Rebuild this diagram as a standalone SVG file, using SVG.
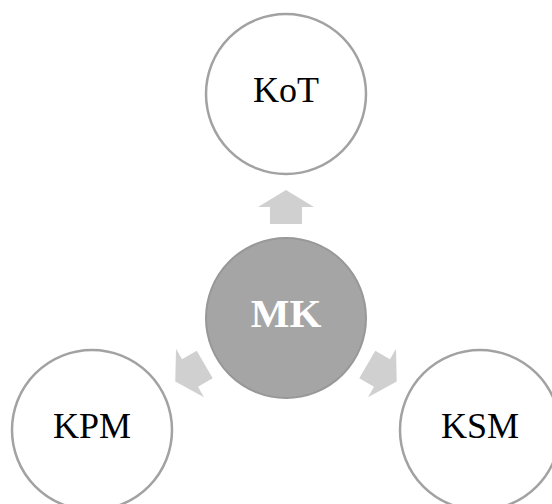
<svg xmlns="http://www.w3.org/2000/svg" width="552" height="504" viewBox="0 0 552 504">
  <style>
    .outer { fill: #ffffff; stroke: #a2a2a2; stroke-width: 2.5; }
    .hub { fill: #a5a5a5; stroke: #989898; stroke-width: 2; }
    .label { font-family: "Liberation Serif", "Times New Roman", serif; font-size: 36px; fill: #000000; text-anchor: middle; }
    .hub-label { font-family: "Liberation Serif", "Times New Roman", serif; font-size: 41px; font-weight: bold; fill: #ffffff; text-anchor: middle; }
    .arrow { fill: #d0d0d0; }
  </style>
  <defs>
    <!-- block arrow pointing up, centred on the origin -->
    <polygon id="blockArrow" points="0,-17 28,0 16,0 16,17 -16,17 -16,0 -28,0"/>
  </defs>

  <g id="connectors">
    <use href="#blockArrow" class="arrow" transform="translate(286,207)"/>
    <use href="#blockArrow" class="arrow" transform="translate(190,373) rotate(-120)"/>
    <use href="#blockArrow" class="arrow" transform="translate(382,373) rotate(120)"/>
  </g>

  <g id="node-kot">
    <circle class="outer" cx="286" cy="94" r="80"/>
    <text class="label" x="286" y="102">KoT</text>
  </g>

  <g id="node-mk">
    <circle class="hub" cx="286" cy="318" r="80"/>
    <text class="hub-label" x="286" y="327">MK</text>
  </g>

  <g id="node-kpm">
    <circle class="outer" cx="92" cy="430" r="80"/>
    <text class="label" x="92" y="438">KPM</text>
  </g>

  <g id="node-ksm">
    <circle class="outer" cx="480" cy="430" r="80"/>
    <text class="label" x="480" y="438">KSM</text>
  </g>
</svg>
